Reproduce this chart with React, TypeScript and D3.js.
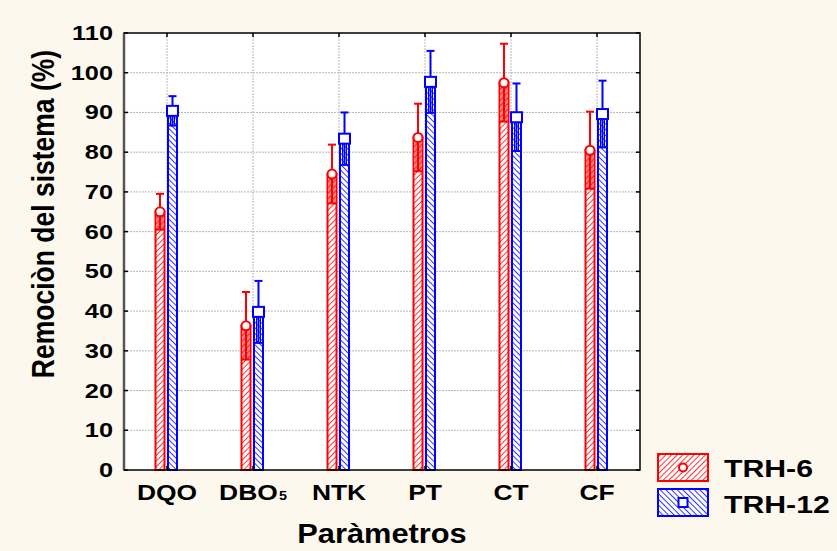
import React from "react";
import * as d3 from "d3";

// Parameters on the x axis and removal means / error half-widths per retention time
const categories = ["DQO", "DBO", "NTK", "PT", "CT", "CF"];
const trh6Mean = [65, 36.3, 74.5, 83.7, 97.5, 80.5];
const trh6Err = [4.5, 8.5, 7.4, 8.5, 9.8, 9.7];
const trh12Mean = [90.4, 39.8, 83.4, 97.7, 88.8, 89.6];
const trh12Err = [3.7, 7.8, 6.6, 7.8, 8.5, 8.4];
const yTicks = [0, 10, 20, 30, 40, 50, 60, 70, 80, 90, 100, 110];
const seriesNames = ["TRH-6", "TRH-12"];

const W = 837;
const H = 551;
const left = 124;
const right = 640;
const top = 33;
const bottom = 470;

const RED = "#ff0000";
const BLUE = "#0000ff";

export default function App() {
  const x = d3.scalePoint<string>().domain(categories).range([left, right]).padding(0.5);
  const y = d3.scaleLinear().domain([0, 110]).range([bottom, top]);
  const font = "Arial, 'Liberation Sans', sans-serif";

  const series = [
    { mean: trh6Mean, err: trh6Err, color: RED, x0: -11.5, x1: -2.5, pat: "hatchRed", marker: "circle" },
    { mean: trh12Mean, err: trh12Err, color: BLUE, x0: 1, x1: 10, pat: "hatchBlue", marker: "square" },
  ];

  return (
    <svg width={W} height={H} style={{ display: "block", position: "absolute", left: 0, top: 0 }}>
      <defs>
        <pattern id="hatchRed" width="4" height="4" patternUnits="userSpaceOnUse" patternTransform="rotate(45)">
          <rect width="4" height="4" fill="#ffffff" />
          <line x1="0" y1="0" x2="0" y2="4" stroke={RED} strokeWidth="1.6" />
        </pattern>
        <pattern id="hatchBlue" width="4" height="4" patternUnits="userSpaceOnUse" patternTransform="rotate(-45)">
          <rect width="4" height="4" fill="#ffffff" />
          <line x1="0" y1="0" x2="0" y2="4" stroke={BLUE} strokeWidth="1.6" />
        </pattern>
      </defs>
      <rect width={W} height={H} fill="#fdf8ee" />
      <rect x={left} y={top} width={right - left} height={bottom - top} fill="#ffffff" />

      {/* grid */}
      {yTicks.slice(1, -1).map((t) => (
        <line key={"gy" + t} x1={left} x2={right} y1={y(t)} y2={y(t)} stroke="#b8b8b8" strokeWidth={1} strokeDasharray="2,1" />
      ))}
      {categories.map((c) => (
        <line key={"gx" + c} x1={x(c)} x2={x(c)} y1={top} y2={bottom} stroke="#b8b8b8" strokeWidth={1} strokeDasharray="2,1" />
      ))}

      {/* bars, error bars and markers */}
      {series.map((s, si) =>
        categories.map((c, i) => {
          const cx = x(c)!;
          const bx0 = cx + s.x0;
          const bx1 = cx + s.x1;
          const mx = (bx0 + bx1) / 2;
          const m = s.mean[i];
          const e = s.err[i];
          return (
            <g key={si + c}>
              <rect x={bx0} y={y(m)} width={bx1 - bx0} height={y(0) - y(m)} fill={`url(#${s.pat})`} stroke={s.color} strokeWidth={2} />
              <line x1={mx} x2={mx} y1={y(m + e)} y2={y(m - e)} stroke={s.color} strokeWidth={2} />
              <line x1={mx - 4} x2={mx + 4} y1={y(m + e)} y2={y(m + e)} stroke={s.color} strokeWidth={2} />
              <line x1={bx0} x2={bx1} y1={y(m - e)} y2={y(m - e)} stroke={s.color} strokeWidth={2} />
              <line x1={bx0 + 2.5} x2={bx0 + 2.5} y1={y(m)} y2={y(m - e)} stroke={s.color} strokeWidth={1} />
              <line x1={bx1 - 2.5} x2={bx1 - 2.5} y1={y(m)} y2={y(m - e)} stroke={s.color} strokeWidth={1} />
              {s.marker === "circle" ? (
                <circle cx={mx} cy={y(m)} r={4.5} fill="#ffffff" stroke={s.color} strokeWidth={2} />
              ) : (
                <rect x={mx - 5.5} y={y(m) - 5} width={11} height={10} fill="#ffffff" stroke={s.color} strokeWidth={2} />
              )}
            </g>
          );
        })
      )}

      {/* frame */}
      <rect x={left} y={top} width={right - left} height={bottom - top} fill="none" stroke="#000" strokeWidth={1.5} />
      <line x1={left} x2={left} y1={top} y2={bottom} stroke="#555" strokeWidth={2.5} />

      {/* ticks */}
      {yTicks.map((t) => (
        <g key={"ty" + t}>
          <line x1={left} x2={left + 4} y1={y(t)} y2={y(t)} stroke="#000" strokeWidth={1.5} />
          <line x1={right - 4} x2={right} y1={y(t)} y2={y(t)} stroke="#000" strokeWidth={1.5} />
          <text transform={`translate(113,${y(t) + 7}) scale(1.3,1)`} textAnchor="end" fontFamily={font} fontWeight="bold" fontSize={19.5} fill="#000">
            {t}
          </text>
        </g>
      ))}
      {categories.map((c) => (
        <g key={"tx" + c}>
          <line x1={x(c)} x2={x(c)} y1={top} y2={top + 4} stroke="#000" strokeWidth={1.5} />
          <line x1={x(c)} x2={x(c)} y1={bottom - 4} y2={bottom} stroke="#000" strokeWidth={1.5} />
          <text transform={`translate(${x(c)},500) scale(1.2,1)`} textAnchor="middle" fontFamily={font} fontWeight="bold" fontSize={22} fill="#000">
            {c}
            {c === "DBO" ? (
              <tspan fontSize={12} dx={1}>
                5
              </tspan>
            ) : null}
          </text>
        </g>
      ))}

      {/* axis titles */}
      <text transform="translate(382,543) scale(1.1,1)" textAnchor="middle" fontFamily={font} fontWeight="bold" fontSize={28} fill="#000">
        Paràmetros
      </text>
      <text transform="translate(54,214) rotate(-90) scale(1,1.2)" textAnchor="middle" fontFamily={font} fontWeight="bold" fontSize={26.5} fill="#000">
        Remociòn del sistema (%)
      </text>

      {/* legend */}
      {series.map((s, si) => {
        const ly = 454 + si * 35;
        return (
          <g key={"lg" + si}>
            <rect x={658} y={ly} width={50} height={27} fill={`url(#${s.pat})`} stroke={s.color} strokeWidth={2} />
            {s.marker === "circle" ? (
              <circle cx={683} cy={ly + 13.5} r={4} fill="#ffffff" stroke={s.color} strokeWidth={2} />
            ) : (
              <rect x={678.5} y={ly + 9} width={9} height={9} fill="#ffffff" stroke={s.color} strokeWidth={2} />
            )}
            <text transform={`translate(724,${si === 0 ? 476.7 : 513}) scale(1.26,1)`} fontFamily={font} fontWeight="bold" fontSize={24} fill="#000">
              {seriesNames[si]}
            </text>
          </g>
        );
      })}
    </svg>
  );
}
